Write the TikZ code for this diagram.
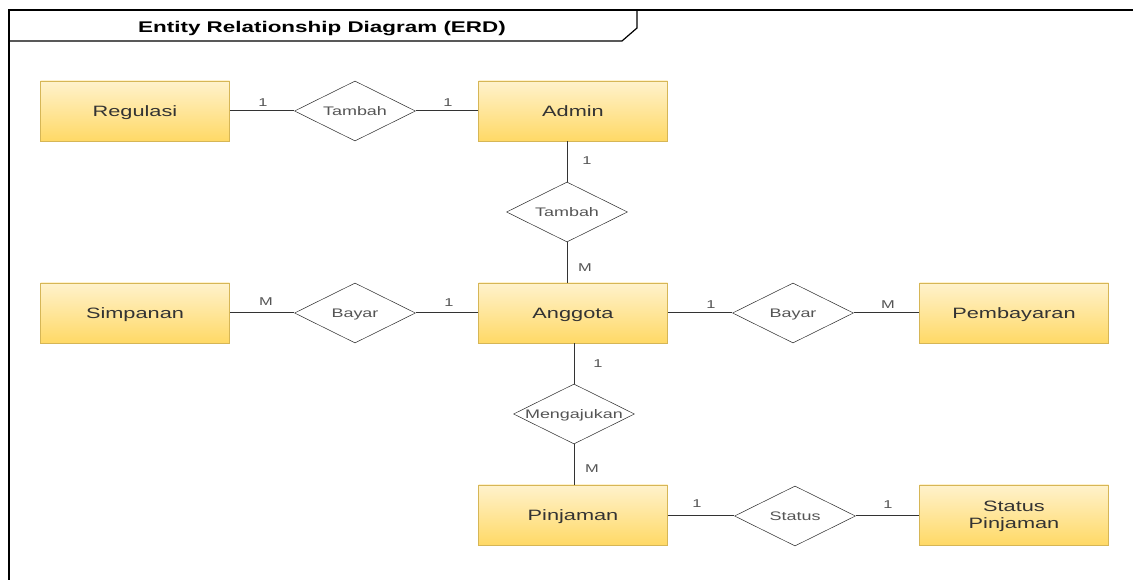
\documentclass[tikz,border=0pt]{standalone}
\usepackage{fontspec}
\setmainfont[FakeStretch=1.45]{Liberation Sans}
\usetikzlibrary{shapes.geometric}

\definecolor{entfill}{HTML}{FFF2CC}
\definecolor{entgrad}{HTML}{FFD966}
\definecolor{entline}{HTML}{D6B656}
\definecolor{txt}{HTML}{333333}
\definecolor{reltxt}{HTML}{555555}

\newcommand{\reltext}[1]{\makebox[0pt]{#1}}

\tikzset{
  ent/.style={draw=entline, top color=entfill, bottom color=entgrad,
    minimum width=141.75pt, minimum height=45pt, inner sep=0pt,
    text height=8pt, text depth=0pt,
    text=txt, font=\fontsize{11.25}{12.5}\selectfont, align=center},
  rel/.style={diamond, draw=txt, fill=white, minimum width=90.75pt,
    minimum height=45pt, inner sep=0pt, text=reltxt,
    text height=6.7pt, text depth=0pt,
    font=\fontsize{9.3}{11}\selectfont},
  card/.style={text=reltxt, font=\fontsize{8.5}{10}\selectfont, inner sep=0pt},
  conn/.style={draw=txt, line width=0.75pt}
}

\begin{document}
\begin{tikzpicture}[x=0.75pt,y=-0.75pt]
\useasboundingbox (0,0) rectangle (1133,580);

% frame
\draw[line width=1.1pt] (9,580) -- (9,10) -- (1133,10);
\draw[line width=0.9pt] (9,41) -- (622,41) -- (637,28) -- (637,10);
\node[font=\fontsize{11.6}{13}\selectfont\bfseries, text=black,
  text height=8.3pt, text depth=0pt, inner sep=0pt] (title) at (322,27) {Entity Relationship Diagram (ERD)};

% entities
\node[ent] (reg) at (135,111) {Regulasi};
\node[ent] (adm) at (573,111) {Admin};
\node[ent] (smp) at (135,313) {Simpanan};
\node[ent] (agt) at (573,313) {Anggota};
\node[ent] (pby) at (1014,313) {Pembayaran};
\node[ent] (pjm) at (573,515) {Pinjaman};
\node[ent, text height=20.5pt] (sts) at (1014,515) {Status\\Pinjaman};

% relations
\node[rel] (tbh1) at (355,111) {\reltext{Tambah}};
\node[rel] (tbh2) at (567,212) {\reltext{Tambah}};
\node[rel] (byr1) at (355,313) {\reltext{Bayar}};
\node[rel] (byr2) at (793,313) {\reltext{Bayar}};
\node[rel] (mgj) at (574,414) {\reltext{Mengajukan}};
\node[rel] (stt) at (795,516) {\reltext{Status}};

% connectors
\draw[conn] (reg) -- (tbh1) -- (adm);
\draw[conn] (tbh2.north) -- (tbh2.north |- adm.south);
\draw[conn] (tbh2.south) -- (tbh2.south |- agt.north);
\draw[conn] (smp) -- (byr1) -- (agt);
\draw[conn] (agt) -- (byr2) -- (pby);
\draw[conn] (mgj.north) -- (mgj.north |- agt.south);
\draw[conn] (mgj.south) -- (mgj.south |- pjm.north);
\draw[conn] (pjm.east |- stt) -- (stt) -- (sts.west |- stt);

% cardinality
\node[card] (c1) at (263,103) {1};
\node[card] (c2) at (448,103) {1};
\node[card] (c3) at (587,161) {1};
\node[card] (c4) at (585,268) {M};
\node[card] (c5) at (266,302) {M};
\node[card] (c6) at (449,303) {1};
\node[card] (c7) at (711,305) {1};
\node[card] (c8) at (888,305) {M};
\node[card] (c9) at (598,364) {1};
\node[card] (c10) at (592,469) {M};
\node[card] (c11) at (697,504) {1};
\node[card] (c12) at (888,505) {1};
\end{tikzpicture}
\end{document}
